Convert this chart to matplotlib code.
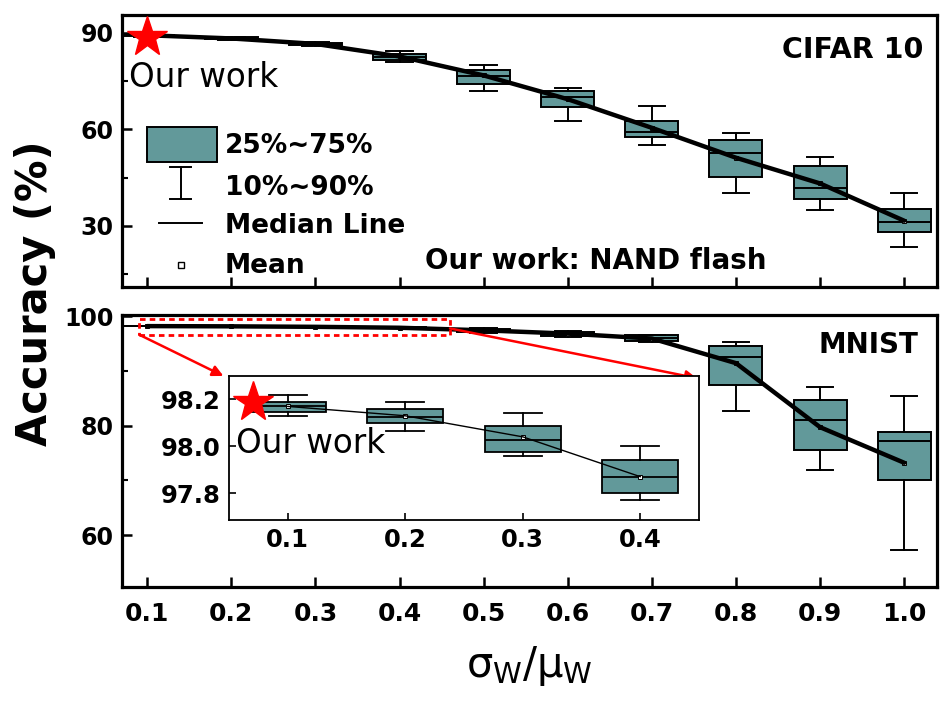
import matplotlib
matplotlib.use('Agg')
import matplotlib.pyplot as plt
from matplotlib.patches import Rectangle
from matplotlib.lines import Line2D
from matplotlib.ticker import MultipleLocator

# ---------------- data ----------------
x = [0.1, 0.2, 0.3, 0.4, 0.5, 0.6, 0.7, 0.8, 0.9, 1.0]
x_labels = ['0.1', '0.2', '0.3', '0.4', '0.5', '0.6', '0.7', '0.8', '0.9', '1.0']

cifar_lo   = [88.9, 87.8, 85.9, 81.0, 72.0, 62.6, 55.2, 40.3, 35.0, 23.5]
cifar_q1   = [89.1, 88.1, 86.3, 81.6, 74.1, 67.1, 57.5, 45.3, 38.4, 28.1]
cifar_med  = [89.3, 88.4, 86.6, 82.6, 76.6, 70.0, 59.2, 52.8, 41.8, 31.2]
cifar_q3   = [89.5, 88.6, 86.9, 83.5, 78.5, 72.0, 62.6, 56.7, 48.7, 35.3]
cifar_hi   = [89.7, 88.9, 87.3, 84.5, 80.0, 73.0, 67.3, 59.0, 51.5, 40.3]
cifar_mean = [89.3, 88.3, 86.6, 82.7, 76.8, 69.4, 60.5, 51.2, 43.2, 31.6]

mnist_lo   = [98.13, 98.064, 97.96, 97.77, 96.9, 96.1, 95.2, 82.7, 71.9, 57.3]
mnist_q1   = [98.146, 98.10, 97.976, 97.80, 97.1, 96.4, 95.4, 87.4, 75.5, 70.1]
mnist_med  = [98.17, 98.125, 98.025, 97.87, 97.35, 96.8, 96.0, 92.6, 81.0, 77.1]
mnist_q3   = [98.19, 98.157, 98.085, 97.94, 97.6, 97.1, 96.5, 94.5, 84.7, 78.9]
mnist_hi   = [98.22, 98.19, 98.14, 98.0, 97.8, 97.3, 96.6, 95.2, 87.0, 85.4]
mnist_mean = [98.17, 98.13, 98.04, 97.87, 97.4, 96.8, 95.9, 91.4, 79.7, 73.2]

inset_n = 4
inset_yticks = [97.8, 98.0, 98.2]
inset_ylabels = ['97.8', '98.0', '98.2']

star_cifar = (0.1, 88.7)
star_mnist = (0.07, 98.19)

# ---------------- style ----------------
plt.rcParams['font.family'] = ['DejaVu Sans']
plt.rcParams['font.weight'] = 'bold'
plt.rcParams['mathtext.fontset'] = 'custom'
plt.rcParams['mathtext.rm'] = 'DejaVu Sans:weight=normal'
plt.rcParams['mathtext.it'] = 'DejaVu Sans:weight=normal'
plt.rcParams['mathtext.bf'] = 'DejaVu Sans:weight=bold'

TEAL = '#62999a'
fig = plt.figure(figsize=(9.5, 7.13), dpi=100)
ax1 = fig.add_axes([0.1284, 0.5975, 0.8579, 0.3815])
ax2 = fig.add_axes([0.1284, 0.1767, 0.8579, 0.3815])
axins = fig.add_axes([0.2411, 0.2707, 0.4947, 0.2020])


def make_stats(lo, q1, med, q3, hi, mean):
    return [dict(whislo=a, q1=b, med=c, q3=d, whishi=e, mean=f, fliers=[])
            for a, b, c, d, e, f in zip(lo, q1, med, q3, hi, mean)]


def draw_boxes(ax, stats, pos, width, lw, ms):
    ax.bxp(stats, positions=pos, widths=width, capwidths=width * 0.5,
           showmeans=True, patch_artist=True, manage_ticks=False,
           boxprops=dict(facecolor=TEAL, edgecolor='black', linewidth=lw),
           whiskerprops=dict(color='black', linewidth=lw),
           capprops=dict(color='black', linewidth=lw),
           medianprops=dict(color='black', linewidth=lw),
           meanprops=dict(marker='s', markersize=ms, markerfacecolor='white',
                          markeredgecolor='black', markeredgewidth=0.7))


cifar_stats = make_stats(cifar_lo, cifar_q1, cifar_med, cifar_q3, cifar_hi, cifar_mean)
mnist_stats = make_stats(mnist_lo, mnist_q1, mnist_med, mnist_q3, mnist_hi, mnist_mean)

# ---- top panel (CIFAR 10)
draw_boxes(ax1, cifar_stats, x, 0.063, 1.4, 3)
ax1.plot(x, cifar_mean, color='black', lw=3.2, zorder=10, solid_capstyle='round')
ax1.plot(*star_cifar, marker='*', ms=30, color='red', mec='red', zorder=12, clip_on=False)
ax1.set_xlim(0.07, 1.039)
ax1.set_ylim(11.0, 95.6)
ax1.set_yticks([30, 60, 90])
ax1.yaxis.set_minor_locator(MultipleLocator(15))
ax1.set_xticks(x)
ax1.tick_params(axis='x', labelbottom=False)

ax1.text(0.0786, 73.2, 'Our work', fontsize=23.5, fontweight='normal', va='baseline', ha='left', zorder=12)
ax1.text(1.0226, 82.2, 'CIFAR 10', fontsize=20.5, va='baseline', ha='right')
ax1.text(0.43, 16.6, 'Our work: NAND flash', fontsize=20, va='baseline', ha='left')

# manual legend (axes fraction)
t = ax1.transAxes
ax1.add_patch(Rectangle((0.031, 0.4596), 0.086, 0.128, transform=t,
                        facecolor=TEAL, edgecolor='black', lw=1.4, clip_on=False))
ax1.add_line(Line2D([0.0724, 0.0724], [0.3235, 0.441], transform=t, color='black', lw=1.4))
ax1.add_line(Line2D([0.0589, 0.0847], [0.441, 0.441], transform=t, color='black', lw=1.4))
ax1.add_line(Line2D([0.0589, 0.0847], [0.3235, 0.3235], transform=t, color='black', lw=1.4))
ax1.add_line(Line2D([0.0454, 0.098], [0.235, 0.235], transform=t, color='black', lw=1.4))
ax1.add_line(Line2D([0.0724], [0.081], transform=t, marker='s', ms=5, mfc='white', mec='black', mew=1.0))
for ty, lab in zip([0.4926, 0.338, 0.1985, 0.0515], ['25%~75%', '10%~90%', 'Median Line', 'Mean']):
    ax1.text(0.126, ty, lab, transform=t, fontsize=19, va='baseline', ha='left')

# ---- bottom panel (MNIST)
draw_boxes(ax2, mnist_stats, x, 0.063, 1.4, 3)
ax2.plot(x, mnist_mean, color='black', lw=3.2, zorder=10, solid_capstyle='round')
ax2.set_xlim(0.07, 1.039)
ax2.set_ylim(50.5, 100.2)
ax2.set_yticks([60, 80, 100])
ax2.yaxis.set_minor_locator(MultipleLocator(10))
ax2.set_xticks(x)
ax2.set_xticklabels(x_labels)
ax2.text(1.0167, 93.3, 'MNIST', fontsize=20, va='baseline', ha='right')

ax2.add_patch(Rectangle((0.0905, 96.5), 0.3695, 2.95, fill=False, edgecolor='red',
                        ls=(0, (2.0, 1.5)), lw=2.0, zorder=11, clip_on=False))
ax2.annotate('', xy=(-0.012, 1.0), xycoords=axins, xytext=(0.0905, 96.6), textcoords='data',
             arrowprops=dict(arrowstyle='-|>', color='red', lw=1.8, mutation_scale=16,
                             shrinkA=0, shrinkB=0), annotation_clip=False, zorder=11)
ax2.annotate('', xy=(0.995, 0.985), xycoords=axins, xytext=(0.46, 97.75), textcoords='data',
             arrowprops=dict(arrowstyle='-|>', color='red', lw=1.8, mutation_scale=16,
                             shrinkA=0, shrinkB=0), annotation_clip=False, zorder=11)

# ---- inset
draw_boxes(axins, mnist_stats[:inset_n], x[:inset_n], 0.065, 1.3, 3)
axins.plot(x[:inset_n], mnist_mean[:inset_n], color='black', lw=1.0, zorder=10)
axins.plot(*star_mnist, marker='*', ms=30, color='red', mec='red', zorder=12, clip_on=False)
axins.set_xlim(0.05, 0.45)
axins.set_ylim(97.685, 98.3)
axins.set_xticks(x[:inset_n])
axins.set_xticklabels(x_labels[:inset_n])
axins.set_yticks(inset_yticks)
axins.set_yticklabels(inset_ylabels)
axins.text(0.056, 97.97, 'Our work', fontsize=23.5, fontweight='normal', va='baseline', ha='left', zorder=12)
for sp in axins.spines.values():
    sp.set_linewidth(1.3)
axins.tick_params(direction='in', length=5, width=1.2, labelsize=17.5, top=False, right=False, pad=6)

# ---- common axis styling
for ax in (ax1, ax2):
    for sp in ax.spines.values():
        sp.set_linewidth(2.3)
    ax.tick_params(which='major', direction='in', length=7, width=1.8, labelsize=17, top=False, right=False)
    ax.tick_params(which='minor', direction='in', length=4, width=1.5, top=False, right=False)
    ax.tick_params(axis='x', which='minor', bottom=False)
ax2.tick_params(axis='x', labelsize=18, pad=11)
ax1.tick_params(axis='y', pad=6)
ax2.tick_params(axis='y', pad=6)

ax2.set_xlabel(r'$\sigma_{\mathrm{W}}/\mu_{\mathrm{W}}$', fontsize=30, fontweight='normal', labelpad=13)
fig.text(0.037, 0.589, 'Accuracy (%)', rotation=90, fontsize=30, ha='center', va='center')

fig.savefig('out.png', dpi=100)
